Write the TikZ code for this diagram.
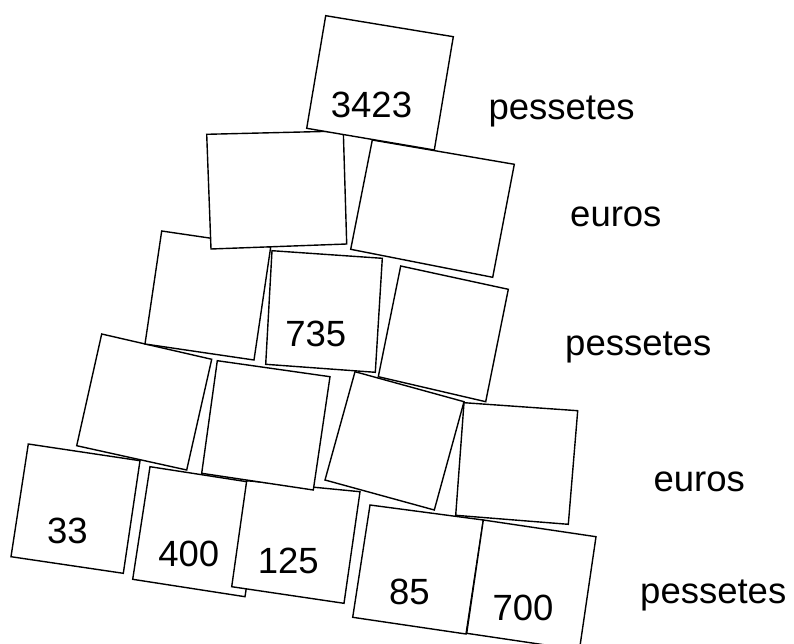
\documentclass[tikz,border=0pt]{standalone}
\usepackage{fontspec}
\setmainfont{Liberation Sans}
\newcommand\tile[4]{\draw[tile] (#1) -- (#2) -- (#3) -- (#4) -- cycle;}
\begin{document}
\begin{tikzpicture}[x=1pt,y=-1pt,line join=miter]
\tikzset{tile/.style={draw,fill=white,line width=1.4pt},
  num/.style={anchor=base,inner sep=0pt,font=\fontsize{36.5}{40}\selectfont},
  unit/.style={anchor=base west,inner sep=0pt,font=\fontsize{36.5}{40}\selectfont}}
\useasboundingbox (0,0) rectangle (794,644);
% bottom row
\tile{28.3,444}{140,460.7}{123.3,573.3}{11,556.7}
\tile{150,466.7}{262.3,484.1}{245,596.7}{132.7,579.3}
\tile{246.7,480.7}{360,491.7}{344,603.3}{231.7,586.7}
\tile{370,505}{483.3,520}{466,634}{352.7,617.3}
\tile{483.3,520}{596,536.7}{579.4,650}{466.7,633.3}
% fourth row
\tile{101.7,334}{211.7,359.3}{186.7,470}{76.7,445.7}
\tile{217.3,360.7}{330,376.7}{313.3,490}{201.7,473.3}
\tile{355,371.7}{464,401.7}{434.3,510}{325,480}
\tile{464,402.7}{577.7,410.7}{568.3,524.3}{455.7,515.3}
% third row
\tile{161.7,231}{270.7,247}{254,360}{145,344}
\tile{272,250.7}{382.3,258.3}{375.3,372.3}{265.7,364.3}
\tile{400.7,266}{508.3,289.3}{485.7,401.7}{378.3,376.7}
% second row
\tile{206.7,134.3}{343.3,131}{346.7,244}{211,249}
\tile{372.3,140}{514.3,164.3}{492.7,277.3}{350.7,249.3}
% top
\tile{325.7,15.7}{453.3,36.7}{434.3,150}{306.7,128.3}
% given numbers
\node[num] (top) at (371.5,117.3) {3423};
\node[num] (mid) at (315.8,346) {735};
\node[num] (b1) at (67.5,543.3) {33};
\node[num] (b2) at (188.8,566.7) {400};
\node[num] (b3) at (288.2,573.3) {125};
\node[num] (b4) at (409.3,604) {85};
\node[num] (b5) at (523,620) {700};
% units
\node[unit] (u1) at (488.3,120) {pessetes};
\node[unit] (u2) at (570,226.7) {euros};
\node[unit] (u3) at (565,355) {pessetes};
\node[unit] (u4) at (653.3,491.7) {euros};
\node[unit] (u5) at (640,603.3) {pessetes};
\end{tikzpicture}
\end{document}
